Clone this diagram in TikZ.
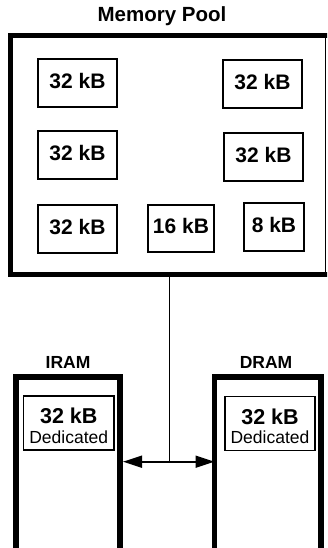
\documentclass[tikz,border=0pt]{standalone}
\usepackage{fontspec}
\setmainfont{Liberation Sans}
\usetikzlibrary{arrows.meta}
\tikzset{
  blk/.style={draw, line width=1.3pt, minimum width=79pt, minimum height=48pt,
    inner sep=0pt, outer sep=0pt, text depth=5pt,
    font=\fontsize{21}{24}\selectfont\bfseries},
  ram/.style={draw, line width=5.5pt, minimum width=105pt, minimum height=240pt,
    inner sep=0pt, outer sep=0pt},
  inbox/.style={draw, line width=1.3pt, minimum width=90pt, minimum height=54pt,
    inner sep=0pt, outer sep=0pt},
  intext/.style={align=center, inner sep=0pt, font=\fontsize{17.5}{19.5}\selectfont},
  ttl/.style={anchor=base, inner sep=0pt, font=\fontsize{20.5}{22}\selectfont\bfseries},
  ramttl/.style={anchor=base, inner sep=0pt, font=\fontsize{17.5}{20}\selectfont\bfseries},
  link/.style={line width=1pt},
  biarrow/.style={line width=1.6pt, {Triangle[length=19pt,width=12pt]}-{Triangle[length=19pt,width=12pt]}},
}
\begin{document}
\begin{tikzpicture}[x=1pt, y=-1pt]
\useasboundingbox (0,0) rectangle (327,548);
\clip (0,0) rectangle (327,548);
\fill[white] (0,0) rectangle (327,548);

% Memory pool
\node[ttl] (title) at (162,21.7) {Memory Pool};
\node[draw, line width=0.8pt, minimum width=315pt, minimum height=239pt, inner sep=0pt, outer sep=0pt]
  (pool) at (167.5,155) {};
\draw[line width=5pt, line join=miter] ([xshift=12pt]pool.north east) -- (pool.north west)
  -- (pool.south west) -- ([xshift=12pt]pool.south east);

\node[blk] (b1) at (77.5,83) {32 kB};
\node[blk] (b2) at (262.5,84) {32 kB};
\node[blk] (b3) at (77.5,155) {32 kB};
\node[blk] (b4) at (263.5,157) {32 kB};
\node[blk] (b5) at (77.5,229) {32 kB};
\node[blk, minimum width=66pt, minimum height=47pt] (b6) at (181,228.5) {16 kB};
\node[blk, minimum width=60pt] (b7) at (274,227) {8 kB};

% IRAM / DRAM
\node[ramttl] (iramt) at (68,368) {IRAM};
\node[ramttl] (dramt) at (266,368) {DRAM};
\node[ram, minimum width=104pt] (iram) at (68,497) {};
\node[ram, minimum width=106.5pt] (dram) at (267.75,497) {};

\node[inbox, minimum width=90.5pt] (iin) at (68.75,423) {};
\node[intext] (itxt) at ([yshift=-3pt]iin.center)
  {{\fontsize{21.5}{19.5}\selectfont\bfseries 32 kB}\\Dedicated};
\node[inbox] (din) at (270,423.5) {};
\node[intext] (dtxt) at ([yshift=-3pt]din.center)
  {{\fontsize{21.5}{19.5}\selectfont\bfseries 32 kB}\\Dedicated};

% connectors
\coordinate (j) at (169.3,461.7);
\draw[link] (pool.south -| j) -- (j);
\draw[biarrow, shorten <=3pt] (j -| iram.east) -- (j -| dram.west);
\end{tikzpicture}
\end{document}
